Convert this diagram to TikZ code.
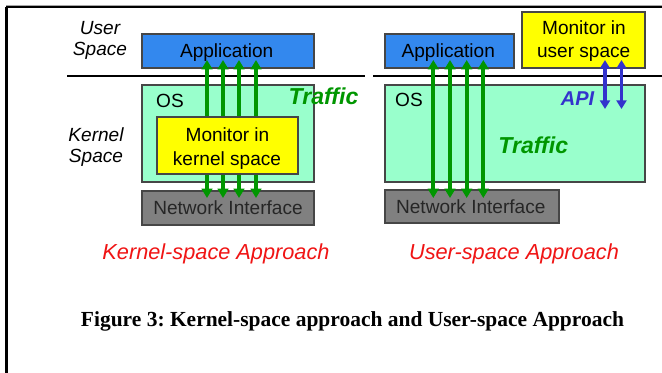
\documentclass[tikz,border=0pt]{standalone}
\usepackage{fontspec}
\setmainfont{Liberation Serif}
\newfontfamily\arial{Liberation Sans}
\usetikzlibrary{arrows.meta}
\frenchspacing

\definecolor{appblue}{RGB}{51,136,238}
\definecolor{osmint}{RGB}{153,255,204}
\definecolor{monyellow}{RGB}{255,255,0}
\definecolor{nigray}{RGB}{128,128,128}
\definecolor{boxedge}{RGB}{70,70,70}
\definecolor{trafficgreen}{RGB}{0,150,0}
\definecolor{apiblue}{RGB}{51,51,204}
\definecolor{captionred}{RGB}{240,20,20}

\tikzset{
  box/.style={draw=boxedge, line width=1.1pt, inner sep=0pt, outer sep=0pt},
  boxtext/.style={font=\arial\fontsize{14.3}{16}\selectfont, anchor=base, inner sep=0pt},
  sidelabel/.style={font=\arial\itshape\fontsize{14.3}{16}\selectfont, anchor=base, inner sep=0pt},
  trafficlabel/.style={font=\arial\bfseries\itshape\fontsize{17.3}{20}\selectfont, text=trafficgreen, anchor=base, inner sep=0pt},
  apilabel/.style={font=\arial\bfseries\itshape\fontsize{15}{18}\selectfont, text=apiblue, anchor=base, inner sep=0pt},
  approach/.style={font=\arial\itshape\fontsize{16.3}{19}\selectfont, text=captionred, anchor=base, inner sep=0pt},
  traffic/.style={draw=trafficgreen, line width=3.2pt,
    {Triangle[width=8pt,length=7pt]}-{Triangle[width=8pt,length=7pt]}},
  apiflow/.style={draw=apiblue, line width=2.4pt,
    {Triangle[width=7.5pt,length=6.5pt]}-{Triangle[width=7.5pt,length=6.5pt]}},
  divider/.style={line width=1.5pt, black},
}

\begin{document}
\begin{tikzpicture}[x=0.75pt, y=-0.75pt]
  \useasboundingbox (0,0) rectangle (662,373);
  \fill[white] (0,0) rectangle (662,373);

  % outer frame
  \draw[line width=1.5pt, gray!70] (6,6) -- (662,6);
  \draw[line width=1.5pt] (6,7.5) -- (662,7.5);
  \draw[line width=2pt] (6.5,7) -- (6.5,373);

  % user / kernel divider
  \draw[divider] (67,76) -- (365,76);
  \draw[divider] (373,76) -- (662,76);

  % ---------------- kernel-space approach ----------------
  \node[sidelabel] (usr1) at (100,34.5) {User};
  \node[sidelabel] (usr2) at (100,56) {Space};
  \node[sidelabel] (krn1) at (96,141.7) {Kernel};
  \node[sidelabel] (krn2) at (96,163) {Space};

  \node[box, fill=osmint, minimum width=172*0.75pt, minimum height=97*0.75pt] (osL) at (228,133.5) {};
  \node[box, fill=appblue, minimum width=172*0.75pt, minimum height=34*0.75pt] (appL) at (228,51) {};
  \node[box, fill=nigray, minimum width=172*0.75pt, minimum height=34*0.75pt] (niL) at (228,208) {};
  \node[boxtext] (appLt) at (226.7,57.3) {Application};
  \node[boxtext] (osLt) at (170,108) {OS};
  \node[boxtext, text=black!85] (niLt) at (228,215) {Network Interface};

  \foreach \i/\x in {1/207,2/223,3/239,4/256}{
    \coordinate (kt\i) at (\x,60);
    \coordinate (kb\i) at (\x,198);
    \draw[traffic] (kt\i) -- (kb\i);
  }

  \node[box, fill=monyellow, minimum width=141*0.75pt, minimum height=57*0.75pt] (monK) at (227.5,145.5) {};
  \node[boxtext] (monK1) at (227.5,141.7) {Monitor in};
  \node[boxtext] (monK2) at (227,165.7) {kernel space};

  \node[trafficlabel] (trL) at (323.5,105) {Traffic};

  % ---------------- user-space approach ----------------
  \node[box, fill=osmint, minimum width=260*0.75pt, minimum height=97*0.75pt] (osR) at (515,133.5) {};
  \node[box, fill=appblue, minimum width=129*0.75pt, minimum height=34*0.75pt] (appR) at (449.5,51) {};
  \node[box, fill=monyellow, minimum width=123*0.75pt, minimum height=56*0.75pt] (monU) at (583.5,40) {};
  \node[box, fill=nigray, minimum width=174*0.75pt, minimum height=33*0.75pt] (niR) at (472,206.5) {};
  \node[boxtext] (appRt) at (448.3,57.3) {Application};
  \node[boxtext] (monU1) at (584,34.3) {Monitor in};
  \node[boxtext] (monU2) at (583.7,57.3) {user space};
  \node[boxtext] (osRt) at (409,107) {OS};
  \node[boxtext, text=black!85] (niRt) at (470.8,213.3) {Network Interface};

  \foreach \i/\x in {1/433.3,2/450,3/466.7,4/483.3}{
    \coordinate (ut\i) at (\x,60);
    \coordinate (ub\i) at (\x,198);
    \draw[traffic] (ut\i) -- (ub\i);
  }
  \foreach \i/\x in {1/605,2/621.5}{
    \coordinate (at\i) at (\x,60);
    \coordinate (ab\i) at (\x,109);
    \draw[apiflow] (at\i) -- (ab\i);
  }

  \node[apilabel] (api) at (577.5,106) {API};
  \node[trafficlabel] (trR) at (533.3,154) {Traffic};

  % ---------------- captions ----------------
  \node[approach] (capK) at (216,260) {Kernel-space Approach};
  \node[approach] (capU) at (514,260) {User-space Approach};
  \node[font=\bfseries\fontsize{16.1}{19}\selectfont, anchor=base, inner sep=0pt] (fig)
    at (352.5,327) {Figure 3: Kernel-space approach and User-space Approach};
\end{tikzpicture}
\end{document}
